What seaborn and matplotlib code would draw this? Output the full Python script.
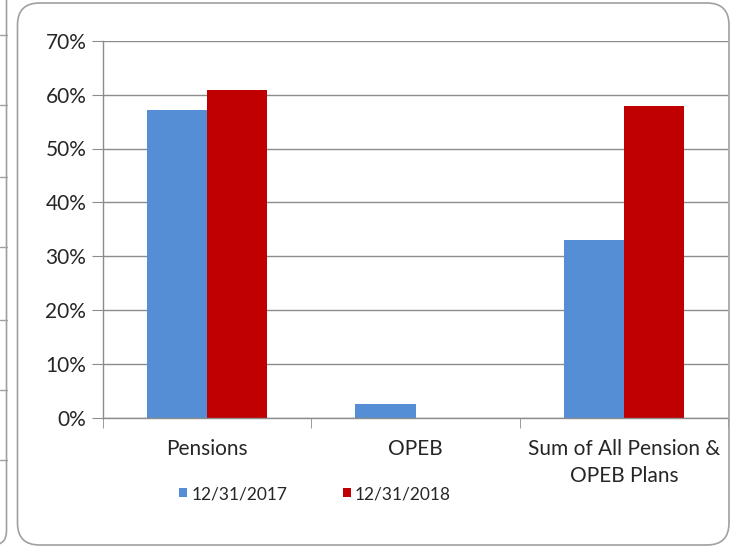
import pandas as pd
import matplotlib
matplotlib.use("Agg")
import matplotlib.pyplot as plt
import seaborn as sns
from matplotlib.ticker import PercentFormatter, FixedLocator
from matplotlib.patches import FancyBboxPatch
from matplotlib.transforms import IdentityTransform

# chart values
categories = ["Pensions", "OPEB", "Sum of All Pension &\nOPEB Plans"]
dates = ["12/31/2017", "12/31/2018"]
v2017 = [0.571, 0.026, 0.330]
v2018 = [0.609, 0.0, 0.579]
y_ticks = [0, 0.1, 0.2, 0.3, 0.4, 0.5, 0.6, 0.7]

df = pd.DataFrame({
    "Category": categories * 2,
    "Date": [dates[0]] * 3 + [dates[1]] * 3,
    "Value": v2017 + v2018,
})

sns.set_style("white")
plt.rcParams["font.family"] = ["Lato", "DejaVu Sans"]

W, H = 736, 546
fig = plt.figure(figsize=(W / 100, H / 100), dpi=100)

# rounded chart frame + fragment of neighbouring chart on the left
fig.add_artist(FancyBboxPatch((17.5, 1), 711.5, 542, boxstyle="round,pad=0,rounding_size=22",
                              transform=IdentityTransform(), fc="none", ec="#a0a0a0", lw=1.2))
fig.add_artist(FancyBboxPatch((-40, 1), 46.5, 560, boxstyle="round,pad=0,rounding_size=14",
                              transform=IdentityTransform(), fc="none", ec="#a0a0a0", lw=1.2))
for yy in [35, 105, 177, 247, 320, 390, 460]:
    fig.add_artist(plt.Line2D([0, 6.5], [H - yy, H - yy], transform=IdentityTransform(),
                              color="#a0a0a0", lw=1))

ax = fig.add_axes([103 / W, 1 - 418 / H, 625 / W, (418 - 40.7) / H])
sns.barplot(data=df, x="Category", y="Value", hue="Date",
            palette=["#558ed5", "#c00000"], width=0.577, saturation=1,
            linewidth=0, ax=ax, zorder=3)

ax.set_ylim(0, 0.7)
ax.set_xlim(-0.5, 2.5)
ax.yaxis.set_major_locator(FixedLocator(y_ticks))
ax.yaxis.set_major_formatter(PercentFormatter(1, decimals=0))
ax.grid(axis="y", color="#8c8c8c", lw=1, zorder=0)
ax.set_axisbelow(True)
for s in ["top", "right"]:
    ax.spines[s].set_visible(False)
for s in ["left", "bottom"]:
    ax.spines[s].set_color("#8c8c8c")
    ax.spines[s].set_linewidth(1)
ax.spines["bottom"].set_zorder(4)

ax.tick_params(axis="y", length=8, color="#8c8c8c", labelsize=15, pad=4, left=True)
ax.tick_params(axis="x", which="major", length=0, labelsize=15, pad=15)
ax.set_xticks([-0.5, 0.5, 1.5, 2.5], minor=True)
ax.tick_params(axis="x", which="minor", length=7, color="#8c8c8c", bottom=True)
for lab in ax.get_xticklabels():
    lab.set_linespacing(1.45)
ax.set_xlabel("")
ax.set_ylabel("")

handles, labels = ax.get_legend_handles_labels()
ax.legend(handles, labels, loc="center", bbox_to_anchor=(315 / W, 1 - 494 / H),
          bbox_transform=fig.transFigure, ncol=2, frameon=False, fontsize=12.5,
          handlelength=0.45, handleheight=0.45, handletextpad=0.25, columnspacing=3.2)

fig.savefig("out.png", dpi=100)
